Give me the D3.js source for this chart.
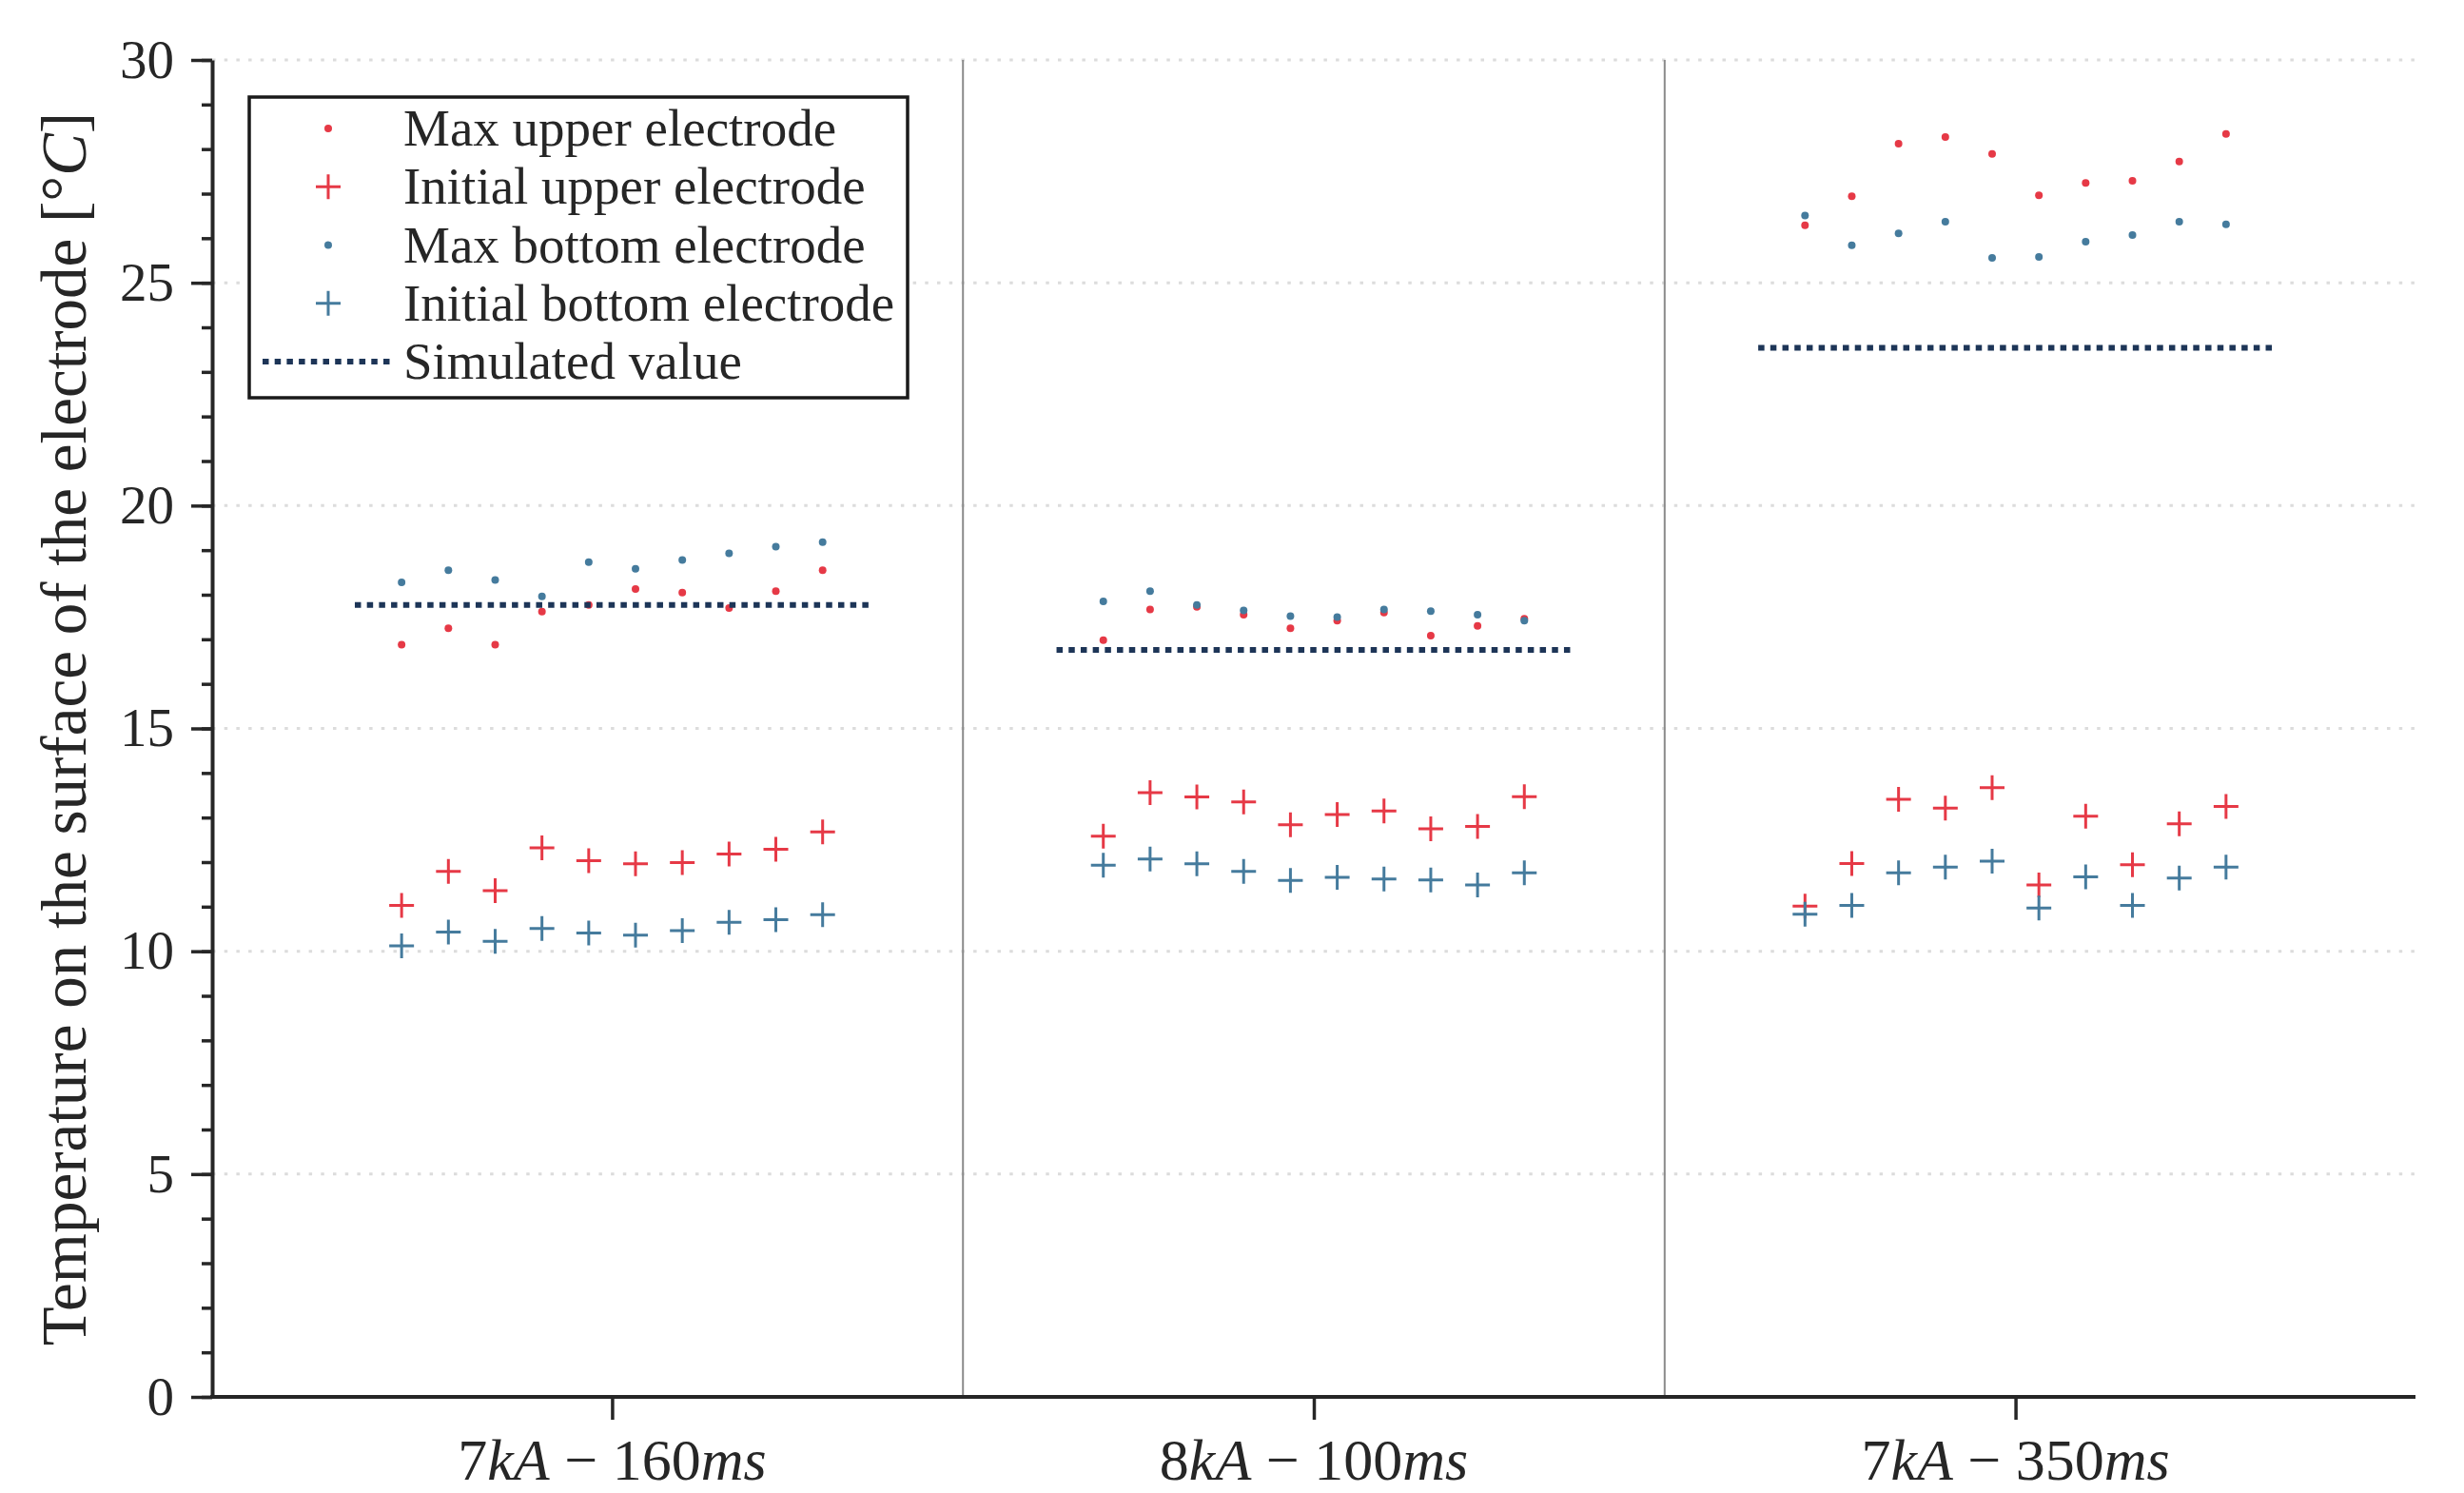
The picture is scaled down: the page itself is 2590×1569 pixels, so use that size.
<!DOCTYPE html>
<html>
<head>
<meta charset="utf-8">
<script src="https://cdn.jsdelivr.net/npm/d3@7"></script>
<style>
  body { margin: 0; background: #fff; }
  text { font-family: "Liberation Serif", "DejaVu Serif", serif; fill: #262626; }
</style>
</head>
<body>
<div id="chart"></div>
<script>
// test cases (one per group), 10 measurements each
const categories = ["7kA − 160ms", "8kA − 100ms", "7kA − 350ms"];

const maxUpper = [
  [16.88, 17.25, 16.88, 17.62, 17.77, 18.13, 18.05, 17.70, 18.08, 18.55],
  [16.98, 17.67, 17.73, 17.55, 17.25, 17.42, 17.60, 17.08, 17.30, 17.46],
  [26.29, 26.94, 28.12, 28.27, 27.89, 26.96, 27.24, 27.29, 27.72, 28.34]
];
const initialUpper = [
  [11.03, 11.79, 11.36, 12.32, 12.03, 11.96, 11.99, 12.18, 12.29, 12.68],
  [12.58, 13.56, 13.46, 13.35, 12.84, 13.07, 13.15, 12.75, 12.80, 13.47],
  [11.01, 11.97, 13.41, 13.21, 13.67, 11.49, 13.03, 11.94, 12.86, 13.25]
];
const maxBottom = [
  [18.28, 18.55, 18.33, 17.96, 18.73, 18.58, 18.78, 18.93, 19.08, 19.18],
  [17.85, 18.08, 17.77, 17.65, 17.52, 17.50, 17.67, 17.63, 17.55, 17.42],
  [26.51, 25.84, 26.11, 26.37, 25.56, 25.58, 25.92, 26.07, 26.37, 26.31]
];
const initialBottom = [
  [10.12, 10.43, 10.22, 10.51, 10.41, 10.36, 10.46, 10.65, 10.71, 10.82],
  [11.93, 12.07, 11.96, 11.79, 11.59, 11.66, 11.62, 11.60, 11.49, 11.76],
  [10.83, 11.03, 11.76, 11.89, 12.02, 10.97, 11.67, 11.03, 11.64, 11.89]
];
const simulated = [17.77, 16.76, 23.54];

const yTicks = [0, 5, 10, 15, 20, 25, 30];
const yMinorTicks = d3.range(0, 31, 1);

const RED = '#e63946', BLUE = '#457b9d', NAVY = '#1d3557';

const series = [
  { name: 'Max upper electrode', data: maxUpper, color: RED, type: 'dot' },
  { name: 'Initial upper electrode', data: initialUpper, color: RED, type: 'cross' },
  { name: 'Max bottom electrode', data: maxBottom, color: BLUE, type: 'dot' },
  { name: 'Initial bottom electrode', data: initialBottom, color: BLUE, type: 'cross' },
  { name: 'Simulated value', color: NAVY, type: 'line' }
];

const W = 2590, H = 1569;
const svg = d3.select('#chart').append('svg')
  .attr('width', W).attr('height', H)
  .style('background', '#fff');

const x = d3.scaleLinear().domain([-0.57, 2.57]).range([223, 2539]);
const y = d3.scaleLinear().domain([0, 30]).range([1468, 63]);

const step = 1 / 15;        // spacing of the 10 repeats inside a group
const xPos = (g, k) => x(g + (k - 4.5) * step);

// grid lines
svg.append('g').selectAll('line')
  .data(yTicks.filter(d => d > 0))
  .enter().append('line')
    .attr('x1', x.range()[0]).attr('x2', x.range()[1])
    .attr('y1', d => y(d)).attr('y2', d => y(d))
    .attr('stroke', '#dcdcdc')
    .attr('stroke-width', 3)
    .attr('stroke-dasharray', '3.5 9.2');

// group dividers
svg.append('g').selectAll('line')
  .data([0.5, 1.5])
  .enter().append('line')
    .attr('x1', d => x(d)).attr('x2', d => x(d))
    .attr('y1', y(30)).attr('y2', y(0))
    .attr('stroke', '#8a8a8a')
    .attr('stroke-width', 2);

function drawMarker(sel, type, color) {
  if (type === 'dot') {
    sel.append('circle').attr('r', 4).attr('fill', color);
  } else if (type === 'cross') {
    const s = 13;
    sel.append('path')
      .attr('d', `M${-s},0H${s}M0,${-s}V${s}`)
      .attr('stroke', color).attr('stroke-width', 3).attr('fill', 'none');
  }
}

const plot = svg.append('g');
series.filter(s => s.type !== 'line').forEach(s => {
  const pts = [];
  s.data.forEach((vals, g) => vals.forEach((v, k) => pts.push({ g, k, v })));
  plot.append('g').selectAll('g')
    .data(pts)
    .enter().append('g')
      .attr('transform', d => `translate(${xPos(d.g, d.k)},${y(d.v)})`)
      .each(function () { drawMarker(d3.select(this), s.type, s.color); });
});

// simulated values
plot.append('g').selectAll('line')
  .data(simulated)
  .enter().append('line')
    .attr('x1', (d, i) => x(i - 5.5 * step))
    .attr('x2', (d, i) => x(i + 5.5 * step))
    .attr('y1', d => y(d)).attr('y2', d => y(d))
    .attr('stroke', NAVY)
    .attr('stroke-width', 6)
    .attr('stroke-dasharray', '6.5 6.2');

// y axis: minor then major ticks
const yMinor = svg.append('g')
  .attr('transform', `translate(${x.range()[0]},0)`)
  .call(d3.axisLeft(y).tickValues(yMinorTicks).tickSize(11).tickFormat(''));
yMinor.select('.domain').remove();
yMinor.selectAll('line').attr('stroke', '#262626').attr('stroke-width', 3.5);

const yAxis = svg.append('g')
  .attr('transform', `translate(${x.range()[0]},0)`)
  .call(d3.axisLeft(y).tickValues(yTicks).tickSize(22).tickSizeOuter(0).tickPadding(18));
yAxis.select('.domain').attr('stroke', '#262626').attr('stroke-width', 4);
yAxis.selectAll('line').attr('stroke', '#262626').attr('stroke-width', 3.5);
yAxis.selectAll('text')
  .style('font-family', '"Liberation Serif", serif')
  .style('font-size', '57px')
  .attr('fill', '#262626');

// x axis
const xAxis = svg.append('g')
  .attr('transform', `translate(0,${y(0)})`)
  .call(d3.axisBottom(x).tickValues([0, 1, 2]).tickSize(24).tickSizeOuter(0).tickFormat(''));
xAxis.select('.domain').attr('stroke', '#262626').attr('stroke-width', 4)
  .attr('d', `M${x.range()[0] - 2},0H${x.range()[1]}`);
xAxis.selectAll('line').attr('stroke', '#262626').attr('stroke-width', 3.5);

// math-style tick labels: letters italic, digits/minus upright
categories.forEach((c, i) => {
  const t = svg.append('text')
    .attr('x', x(i)).attr('y', 1555)
    .attr('text-anchor', 'middle')
    .style('font-size', '62px');
  c.match(/[A-Za-z]+|[^A-Za-z]+/g).forEach(part => {
    t.append('tspan')
      .style('font-style', /[A-Za-z]/.test(part) ? 'italic' : 'normal')
      .text(part);
  });
});

// y label
const yl = svg.append('text')
  .attr('transform', `translate(90,766) rotate(-90)`)
  .attr('text-anchor', 'middle')
  .style('font-size', '67px');
yl.append('tspan').text('Temperature on the surface of the electrode [°');
yl.append('tspan').style('font-style', 'italic').text('C');
yl.append('tspan').text(']');

// legend
const legend = svg.append('g');
legend.append('rect')
  .attr('x', 262).attr('y', 102).attr('width', 692).attr('height', 316)
  .attr('fill', '#fff').attr('stroke', '#1a1a1a').attr('stroke-width', 3.5);

const rowY = d3.scalePoint().domain(series.map(s => s.name)).range([135, 380]);
series.forEach(s => {
  const row = legend.append('g').attr('transform', `translate(0,${rowY(s.name)})`);
  if (s.type === 'line') {
    row.append('line')
      .attr('x1', 276).attr('x2', 414).attr('y1', 0).attr('y2', 0)
      .attr('stroke', NAVY).attr('stroke-width', 6).attr('stroke-dasharray', '6.5 6.2');
  } else {
    drawMarker(row.append('g').attr('transform', 'translate(345,0)'), s.type, s.color);
  }
  row.append('text')
    .attr('x', 424).attr('y', 0).attr('dy', '0.33em')
    .style('font-size', '55px')
    .text(s.name);
});
</script>
</body>
</html>
